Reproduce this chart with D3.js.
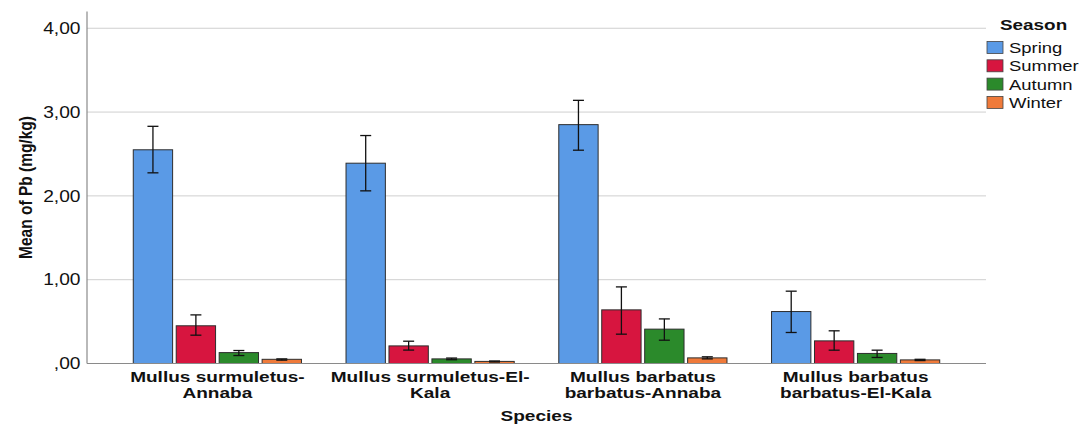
<!DOCTYPE html>
<html>
<head>
<meta charset="utf-8">
<script src="https://cdn.jsdelivr.net/npm/d3@7"></script>
<style>
  html, body { margin: 0; padding: 0; background: #fff; }
  svg { display: block; font-family: "Liberation Sans", Arial, sans-serif; }
</style>
</head>
<body>
<svg id="chart" width="1080" height="425"></svg>
<script>
// Mean Pb concentration (mg/kg) by species/site and season, with error bars
const species = [
  "Mullus surmuletus-Annaba",
  "Mullus surmuletus-El-Kala",
  "Mullus barbatus barbatus-Annaba",
  "Mullus barbatus barbatus-El-Kala"
];
const speciesLines = [
  ["Mullus surmuletus-", "Annaba"],
  ["Mullus surmuletus-El-", "Kala"],
  ["Mullus barbatus", "barbatus-Annaba"],
  ["Mullus barbatus", "barbatus-El-Kala"]
];
const seasons = ["Spring", "Summer", "Autumn", "Winter"];
const seasonColors = ["#5a9ae6", "#d7153f", "#2b8a2b", "#ef7a3a"];

const springMean = [2.55, 2.39, 2.85, 0.62];
const summerMean = [0.45, 0.21, 0.64, 0.27];
const autumnMean = [0.13, 0.055, 0.41, 0.12];
const winterMean = [0.05, 0.025, 0.067, 0.043];

const springLow  = [2.275, 2.06, 2.545, 0.37];
const springHigh = [2.83, 2.72, 3.14, 0.863];
const summerLow  = [0.338, 0.16, 0.35, 0.159];
const summerHigh = [0.58, 0.266, 0.914, 0.39];
const autumnLow  = [0.095, 0.045, 0.278, 0.072];
const autumnHigh = [0.155, 0.065, 0.532, 0.159];
const winterLow  = [0.04, 0.018, 0.055, 0.035];
const winterHigh = [0.055, 0.03, 0.08, 0.05];

const yTicks = [0, 1, 2, 3, 4];

const means = [springMean, summerMean, autumnMean, winterMean];
const lows = [springLow, summerLow, autumnLow, winterLow];
const highs = [springHigh, summerHigh, autumnHigh, winterHigh];

const rows = [];
species.forEach((sp, i) => {
  seasons.forEach((se, j) => {
    rows.push({ species: sp, season: se, mean: means[j][i], lo: lows[j][i], hi: highs[j][i] });
  });
});

const svg = d3.select("#chart");
const plotLeft = 87, plotRight = 986, plotTop = 11.5, plotBottom = 363.5;

const x = d3.scaleBand().domain(species).range([plotLeft, plotRight]).paddingInner(0.1925).paddingOuter(0.209);
const xs = d3.scaleBand().domain(seasons).range([0, x.bandwidth()]).paddingInner(0.084).paddingOuter(0.042);
const y = d3.scaleLinear().domain([0, 4.2]).range([plotBottom, plotTop]);
const color = d3.scaleOrdinal().domain(seasons).range(seasonColors);

const fmt = v => {
  let s = d3.format(".2f")(v).replace(".", ",");
  if (s.startsWith("0,")) s = s.slice(1);
  return s;
};

// horizontally stretched text
function stretchText(sel, px, py, sx) {
  return sel.attr("transform", `translate(${px},${py}) scale(${sx},1)`);
}

// gridlines
svg.append("g").selectAll("line").data(yTicks.filter(d => d > 0)).join("line")
  .attr("x1", plotLeft).attr("x2", plotRight)
  .attr("y1", d => y(d)).attr("y2", d => y(d))
  .attr("stroke", "#cfcfcf").attr("stroke-width", 1);

// y tick labels
svg.append("g").selectAll("text").data(yTicks).join("text")
  .each(function(d) { stretchText(d3.select(this), 80.5, y(d) + 5.8, 1.2); })
  .attr("text-anchor", "end")
  .attr("font-size", 16)
  .attr("fill", "#111")
  .text(fmt);

// bars
const groups = svg.append("g").selectAll("g").data(species).join("g")
  .attr("transform", d => `translate(${x(d)},0)`);

groups.selectAll("rect").data(d => rows.filter(r => r.species === d)).join("rect")
  .attr("x", d => xs(d.season))
  .attr("width", xs.bandwidth())
  .attr("y", d => y(d.mean))
  .attr("height", d => y(0) - y(d.mean))
  .attr("fill", d => color(d.season))
  .attr("stroke", "#2d2d2d").attr("stroke-width", 1);

// error bars
const eb = groups.selectAll("g.eb").data(d => rows.filter(r => r.species === d)).join("g")
  .attr("class", "eb")
  .attr("stroke", "#111").attr("stroke-width", 1.3);
eb.append("line")
  .attr("x1", d => xs(d.season) + xs.bandwidth() / 2)
  .attr("x2", d => xs(d.season) + xs.bandwidth() / 2)
  .attr("y1", d => y(d.lo)).attr("y2", d => y(d.hi));
eb.append("line")
  .attr("x1", d => xs(d.season) + xs.bandwidth() / 2 - 5.5)
  .attr("x2", d => xs(d.season) + xs.bandwidth() / 2 + 5.5)
  .attr("y1", d => y(d.hi)).attr("y2", d => y(d.hi));
eb.append("line")
  .attr("x1", d => xs(d.season) + xs.bandwidth() / 2 - 5.5)
  .attr("x2", d => xs(d.season) + xs.bandwidth() / 2 + 5.5)
  .attr("y1", d => y(d.lo)).attr("y2", d => y(d.lo));

// axis lines
svg.append("line").attr("x1", plotLeft).attr("x2", plotLeft).attr("y1", plotTop).attr("y2", plotBottom)
  .attr("stroke", "#8a8a8a").attr("stroke-width", 1.2);
svg.append("line").attr("x1", plotLeft).attr("x2", plotRight).attr("y1", plotBottom).attr("y2", plotBottom)
  .attr("stroke", "#8a8a8a").attr("stroke-width", 1.2);

// x category labels
species.forEach((sp, i) => {
  const cx = x(sp) + x.bandwidth() / 2;
  speciesLines[i].forEach((ln, k) => {
    stretchText(svg.append("text"), cx, 381.7 + k * 16.6, 1.27)
      .attr("text-anchor", "middle")
      .attr("font-size", 15).attr("font-weight", "bold").attr("fill", "#111")
      .text(ln);
  });
});

// axis titles
stretchText(svg.append("text"), (plotLeft + plotRight) / 2, 421, 1.27)
  .attr("text-anchor", "middle")
  .attr("font-size", 15).attr("font-weight", "bold").attr("fill", "#111")
  .text("Species");

svg.append("text")
  .attr("transform", `translate(31.5,${(plotTop + plotBottom) / 2}) rotate(-90) scale(1,1.15)`)
  .attr("text-anchor", "middle")
  .attr("font-size", 15.5).attr("font-weight", "bold").attr("fill", "#111")
  .text("Mean of Pb (mg/kg)");

// legend
const lg = svg.append("g");
stretchText(lg.append("text"), 1000, 30, 1.26)
  .attr("font-size", 15).attr("font-weight", "bold").attr("fill", "#111")
  .text("Season");
const items = lg.selectAll("g.item").data(seasons).join("g")
  .attr("class", "item")
  .attr("transform", (d, i) => `translate(987,${41.5 + i * 18.3})`);
items.append("rect")
  .attr("width", 16).attr("height", 12)
  .attr("fill", d => color(d))
  .attr("stroke", "#444").attr("stroke-width", 0.8);
items.append("text")
  .attr("transform", "translate(22,11.5) scale(1.23,1)")
  .attr("font-size", 15).attr("fill", "#111")
  .text(d => d);
</script>
</body>
</html>
